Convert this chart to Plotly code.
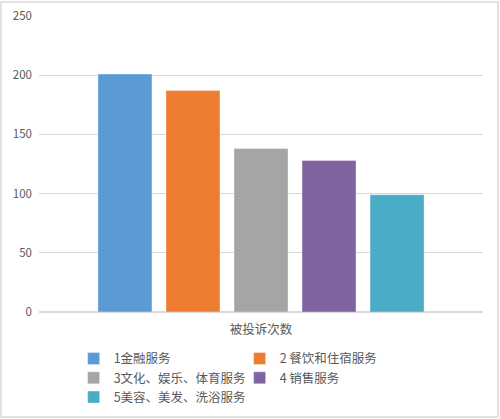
import plotly.graph_objects as go

# données
categorie = ["被投诉次数"]
services = ["1金融服务", "2 餐饮和住宿服务", "3文化、娱乐、体育服务", "4 销售服务", "5美容、美发、洗浴服务"]
nb_plaintes = [201, 187, 138, 128, 99]
couleurs = ["#5B9BD5", "#ED7D31", "#A5A5A5", "#8064A2", "#4BACC6"]
ticks_y = [0, 50, 100, 150, 200, 250]

fig = go.Figure()
for nom, val, coul in zip(services, nb_plaintes, couleurs):
    fig.add_trace(go.Bar(x=categorie, y=[val], name=nom,
                         marker=dict(color=coul, line=dict(color="rgba(255,255,255,0.35)", width=1))))

fig.update_layout(
    width=500, height=419,
    margin=dict(l=39, r=17, t=16, b=107, autoexpand=False),
    paper_bgcolor="white", plot_bgcolor="white",
    barmode="group", bargap=0.234, bargroupgap=0.206,
    font=dict(family="Noto Sans CJK SC, Microsoft YaHei, sans-serif", size=12, color="#595959"),
    legend=dict(orientation="h", x=0.078, xanchor="left", y=-0.108, yanchor="top",
                entrywidth=121, entrywidthmode="pixels", itemwidth=30,
                font=dict(size=12.5, color="#595959"), tracegroupgap=0),
    showlegend=True,
)
fig.update_xaxes(showgrid=False, showline=False, tickfont=dict(size=12.5, color="#595959"),
                 ticklabelstandoff=8)
fig.update_yaxes(range=[0, 250], tickvals=ticks_y, gridcolor="#D9D9D9", gridwidth=1,
                 zeroline=True, zerolinecolor="#D9D9D9", showline=False,
                 tickfont=dict(size=11.5, color="#595959"), ticklabelstandoff=6)

# cadre gris autour du graphique
fig.add_shape(type="rect", xref="paper", yref="paper",
              x0=-38/444, x1=1+15/444, y0=-105/296, y1=1+14/296,
              line=dict(color="#D9D9D9", width=1.5), fillcolor="rgba(0,0,0,0)", layer="below")

# pas de marge autour de la page, pas de barre d'outils
fig.write_html("out.html", config={"displayModeBar": False},
               post_script="document.body.style.margin='0';")
